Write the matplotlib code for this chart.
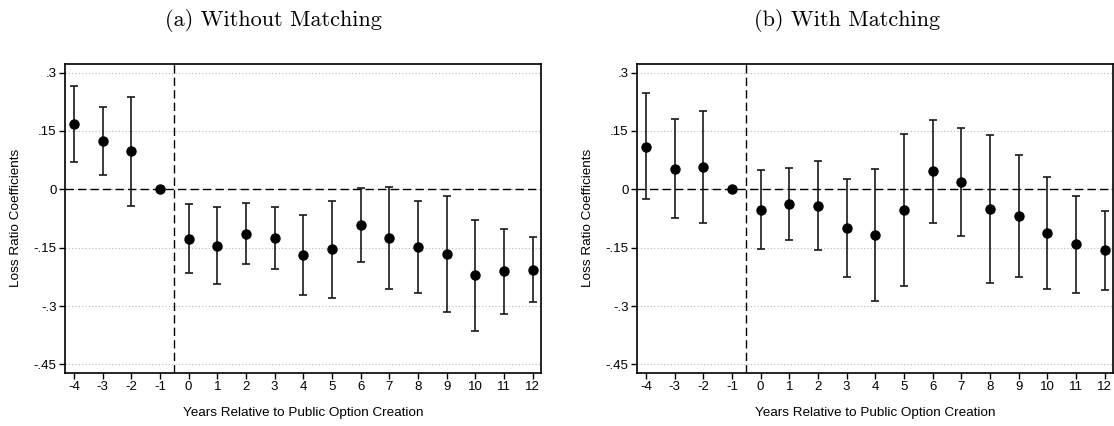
import matplotlib
matplotlib.use("Agg")
import matplotlib.pyplot as plt
import numpy as np

years = [-4, -3, -2, -1, 0, 1, 2, 3, 4, 5, 6, 7, 8, 9, 10, 11, 12]

coef_a = [0.168, 0.124, 0.098, 0.0, -0.127, -0.145, -0.114, -0.126, -0.169, -0.154,
          -0.092, -0.126, -0.149, -0.166, -0.221, -0.211, -0.207]
upper_a = [0.266, 0.212, 0.238, 0.0, -0.039, -0.045, -0.034, -0.045, -0.065, -0.029,
           0.003, 0.005, -0.030, -0.016, -0.080, -0.103, -0.123]
lower_a = [0.070, 0.037, -0.042, 0.0, -0.215, -0.243, -0.193, -0.206, -0.271, -0.280,
           -0.186, -0.257, -0.267, -0.315, -0.363, -0.320, -0.290]

coef_b = [0.110, 0.053, 0.058, 0.0, -0.052, -0.038, -0.042, -0.100, -0.117, -0.053,
          0.046, 0.020, -0.051, -0.068, -0.112, -0.141, -0.157]
upper_b = [0.247, 0.180, 0.202, 0.0, 0.050, 0.056, 0.074, 0.026, 0.053, 0.143,
           0.179, 0.158, 0.140, 0.088, 0.032, -0.016, -0.055]
lower_b = [-0.026, -0.073, -0.086, 0.0, -0.153, -0.131, -0.157, -0.225, -0.286, -0.248,
           -0.087, -0.119, -0.242, -0.225, -0.255, -0.267, -0.258]

ytick_vals = [0.3, 0.15, 0, -0.15, -0.3, -0.45]
ytick_labels = [".3", ".15", "0", "-.15", "-.3", "-.45"]
titles = ["(a) Without Matching", "(b) With Matching"]
ylabel = "Loss Ratio Coefficients"
xlabel = "Years Relative to Public Option Creation"

fig = plt.figure(figsize=(11.14, 4.26), dpi=100)
W, H = 1114, 426
panels = [(65, coef_a, upper_a, lower_a, 273, 16),
          (637, coef_b, upper_b, lower_b, 847, 588)]
sans = ["Liberation Sans", "DejaVu Sans"]

for i, (x0, c, u, l, tx, ylx) in enumerate(panels):
    ax = fig.add_axes([x0 / W, (H - 373) / H, 476 / W, 309 / H])
    c = np.array(c); u = np.array(u); l = np.array(l)
    yerr = np.vstack([c - l, u - c])
    for y in ytick_vals:
        ax.axhline(y, color="#b8b8b8", lw=0.8, ls=(0, (1, 2)), zorder=0)
    ax.axhline(0, color="black", lw=1.0, ls=(0, (6, 3)), zorder=1)
    ax.axvline(-0.5, color="black", lw=1.0, ls=(0, (6, 3)), zorder=1)
    ax.errorbar(years, c, yerr=yerr, fmt="o", color="black", ecolor="#1a1a1a",
                markersize=6.5, elinewidth=1.2, capsize=3.2, capthick=1.2, zorder=3)
    ax.set_xlim(-4.31, 12.29)
    ax.set_ylim(-0.472, 0.322)
    ax.set_xticks(years)
    ax.set_xticklabels([str(y) for y in years], family=sans, fontsize=9.5)
    ax.set_yticks(ytick_vals)
    ax.set_yticklabels(ytick_labels, family=sans, fontsize=9.5)
    ax.tick_params(direction="out", length=4, width=1, colors="black", pad=2)
    for s in ax.spines.values():
        s.set_linewidth(1.2)
        s.set_color("black")
    fig.text((x0 + 238) / W, 1 - 413 / H, xlabel, family=sans, fontsize=9.7,
             ha="center", va="center")
    fig.text(ylx / W, 1 - 218 / H, ylabel, family=sans, fontsize=9.7,
             ha="center", va="center", rotation=90)
    fig.text(tx / W, 1 - 20 / H, titles[i], family="cmr10", fontsize=16,
             ha="center", va="center")

fig.savefig("out.png", dpi=100)
